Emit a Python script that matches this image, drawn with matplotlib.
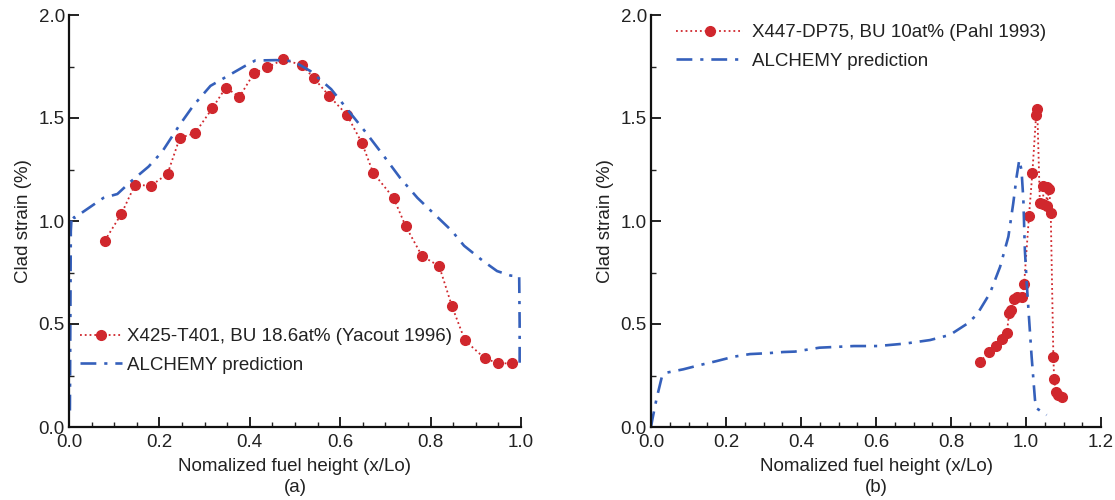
import matplotlib
matplotlib.use("Agg")
import matplotlib.pyplot as plt
from matplotlib.ticker import MultipleLocator

# ---------------- Data ----------------
# (a) X425-T401 measured clad strain
a_exp_x = [0.079, 0.116, 0.146, 0.181, 0.218, 0.245, 0.279, 0.317, 0.347, 0.377,
           0.409, 0.439, 0.474, 0.515, 0.542, 0.576, 0.615, 0.648, 0.673, 0.718,
           0.745, 0.781, 0.819, 0.847, 0.876, 0.920, 0.950, 0.981]
a_exp_y = [0.904, 1.035, 1.176, 1.171, 1.229, 1.403, 1.427, 1.547, 1.648, 1.602,
           1.717, 1.746, 1.784, 1.757, 1.693, 1.606, 1.515, 1.379, 1.234, 1.112,
           0.974, 0.830, 0.781, 0.588, 0.420, 0.333, 0.309, 0.309]

# (a) ALCHEMY prediction
a_sim_x = [0.002, 0.003, 0.004, 0.006, 0.012, 0.023, 0.076, 0.107, 0.137, 0.176,
           0.206, 0.244, 0.275, 0.313, 0.351, 0.389, 0.412, 0.458, 0.496, 0.534,
           0.580, 0.618, 0.656, 0.695, 0.733, 0.771, 0.809, 0.847, 0.874, 0.916,
           0.947, 0.977, 0.996, 0.997, 0.997]
a_sim_y = [0.08, 0.50, 0.95, 1.030, 1.015, 1.032, 1.112, 1.131, 1.192, 1.264,
           1.336, 1.464, 1.560, 1.656, 1.704, 1.752, 1.779, 1.781, 1.776, 1.728,
           1.640, 1.536, 1.432, 1.320, 1.208, 1.112, 1.032, 0.952, 0.880, 0.806,
           0.757, 0.735, 0.732, 0.50, 0.275]

# (b) X447-DP75 measured clad strain
b_exp_x = [0.876, 0.901, 0.919, 0.935, 0.949, 0.955, 0.959, 0.968, 0.975, 0.990,
           0.995, 1.008, 1.017, 1.027, 1.030, 1.037, 1.046, 1.046, 1.055, 1.055,
           1.062, 1.066, 1.073, 1.075, 1.079, 1.086, 1.095]
b_exp_y = [0.314, 0.362, 0.393, 0.426, 0.455, 0.555, 0.568, 0.620, 0.633, 0.633,
           0.694, 1.024, 1.235, 1.515, 1.544, 1.086, 1.083, 1.170, 1.163, 1.073,
           1.154, 1.037, 0.341, 0.231, 0.168, 0.155, 0.144]

# (b) ALCHEMY prediction
b_sim_x = [0.000, 0.004, 0.015, 0.029, 0.042, 0.086, 0.131, 0.175, 0.220, 0.264,
           0.309, 0.353, 0.384, 0.449, 0.541, 0.605, 0.678, 0.744, 0.797, 0.842,
           0.869, 0.904, 0.931, 0.953, 0.966, 0.975, 0.982, 0.988, 0.993, 0.997,
           1.002, 1.009, 1.015, 1.024, 1.029, 1.055]
b_sim_y = [0.00, 0.04, 0.139, 0.244, 0.264, 0.280, 0.301, 0.320, 0.341, 0.354,
           0.358, 0.364, 0.366, 0.385, 0.393, 0.393, 0.405, 0.422, 0.447, 0.500,
           0.545, 0.650, 0.778, 0.924, 1.086, 1.215, 1.296, 1.248, 1.102, 0.859,
           0.697, 0.503, 0.341, 0.131, 0.090, 0.058]

# ---------------- Style ----------------
RED = "#d0272d"
BLUE = "#3560bb"
TXT = "#222222"
FS = 13.5
DASHDOT = (0, (6, 3, 1.2, 3))

plt.rcParams["font.family"] = ["Liberation Sans", "DejaVu Sans"]
plt.rcParams["font.size"] = FS
plt.rcParams["text.color"] = TXT
plt.rcParams["axes.labelcolor"] = TXT
plt.rcParams["xtick.color"] = TXT
plt.rcParams["ytick.color"] = TXT

fig = plt.figure(figsize=(11.15, 5), dpi=100)
ax_a = fig.add_axes([69 / 1115, 73 / 500, 452 / 1115, 412 / 500])
ax_b = fig.add_axes([651 / 1115, 73 / 500, 450 / 1115, 412 / 500])


def style_axes(ax, xmax):
    ax.set_xlim(0, xmax)
    ax.set_ylim(0, 2.0)
    ax.spines["top"].set_visible(False)
    ax.spines["right"].set_visible(False)
    for s in ("left", "bottom"):
        ax.spines[s].set_linewidth(1.6)
        ax.spines[s].set_color("#111111")
    ax.xaxis.set_major_locator(MultipleLocator(0.2))
    ax.xaxis.set_minor_locator(MultipleLocator(0.05))
    ax.yaxis.set_major_locator(MultipleLocator(0.5))
    ax.yaxis.set_minor_locator(MultipleLocator(0.25))
    ax.xaxis.set_major_formatter(lambda v, p: f"{v:.1f}")
    ax.yaxis.set_major_formatter(lambda v, p: f"{v:.1f}")
    ax.tick_params(which="major", direction="in", length=7, width=1.4, labelsize=FS)
    ax.tick_params(axis="x", which="major", pad=5)
    ax.tick_params(axis="y", which="major", pad=3)
    ax.tick_params(which="minor", direction="in", length=3.5, width=1.0)
    ax.tick_params(top=False, right=False, which="both")
    ax.set_xlabel("Nomalized fuel height (x/Lo)", fontsize=FS, labelpad=5)
    ax.set_ylabel("Clad strain (%)", fontsize=FS, labelpad=5)


# ---------------- (a) ----------------
ax_a.plot(a_exp_x, a_exp_y, ":", color=RED, lw=1.3, marker="o", ms=7,
          mfc=RED, mec=RED, label="X425-T401, BU 18.6at% (Yacout 1996)", clip_on=False)
ax_a.plot(a_sim_x, a_sim_y, color=BLUE, lw=1.9, linestyle=DASHDOT, label="ALCHEMY prediction")
style_axes(ax_a, 1.0)
ax_a.legend(loc="upper left", bbox_to_anchor=(0.025, 0.24), frameon=False, numpoints=1,
            handlelength=2.2, handletextpad=0.3, labelspacing=0.6, borderpad=0,
            borderaxespad=0, fontsize=FS)
ax_a.text(0.5, -0.148, "(a)", transform=ax_a.transAxes, ha="center", va="center", fontsize=FS)

# ---------------- (b) ----------------
ax_b.plot(b_exp_x, b_exp_y, ":", color=RED, lw=1.3, marker="o", ms=7,
          mfc=RED, mec=RED, label="X447-DP75, BU 10at% (Pahl 1993)")
ax_b.plot(b_sim_x, b_sim_y, color=BLUE, lw=1.9, linestyle=DASHDOT, label="ALCHEMY prediction")
style_axes(ax_b, 1.2)
ax_b.legend(loc="upper left", bbox_to_anchor=(0.055, 0.978), frameon=False, numpoints=1,
            handlelength=3.6, handletextpad=0.45, labelspacing=0.6, borderpad=0,
            borderaxespad=0, fontsize=FS)
ax_b.text(0.5, -0.148, "(b)", transform=ax_b.transAxes, ha="center", va="center", fontsize=FS)

fig.savefig("out.png", dpi=100)
